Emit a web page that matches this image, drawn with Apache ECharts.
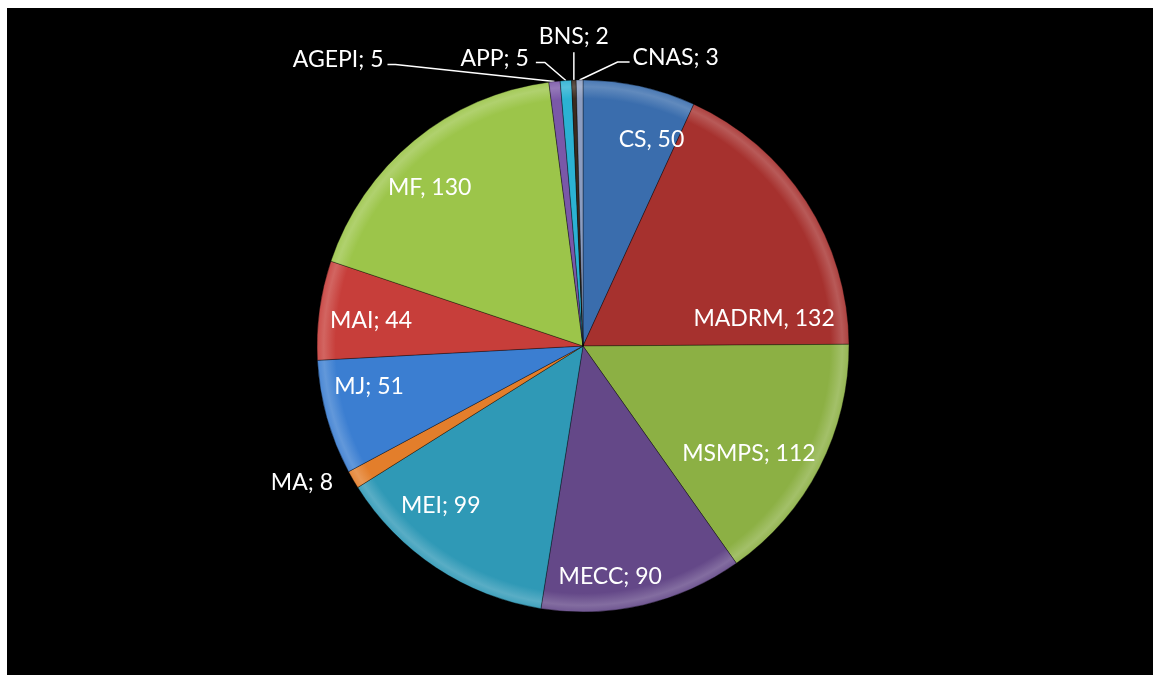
<!DOCTYPE html>
<html>
<head>
<meta charset="utf-8">
<script src="https://cdn.jsdelivr.net/npm/echarts/dist/echarts.min.js"></script>
<style>
  html, body { margin: 0; padding: 0; background: #ffffff; overflow: hidden; }
  #chart { position: absolute; left: 7px; top: 8px; width: 1146px; height: 667px; }
</style>
</head>
<body>
<div id="chart"></div>
<script>
// ---- data ----
const categories = ['CS', 'MADRM', 'MSMPS', 'MECC', 'MEI', 'MA', 'MJ', 'MAI', 'MF', 'AGEPI', 'APP', 'BNS', 'CNAS'];
const values     = [50, 132, 112, 90, 99, 8, 51, 44, 130, 5, 5, 2, 3];
const separators = [',', ',', ';', ';', ';', ';', ';', ';', ',', ';', ';', ';', ';'];
const colors     = ['#3a6dad', '#a6312e', '#8cb044', '#644888', '#2f99b6', '#e37e2b',
                    '#3b7ed1', '#c73e3a', '#9cc54a', '#7a58a8', '#2bb2d3', '#3a2a1e', '#8c9dc1'];

// ---- layout constants ----
const CX = 576, CY = 338, R = 266;

function lighten(hex, amt) {
  const n = parseInt(hex.slice(1), 16);
  let r = (n >> 16) & 255, g = (n >> 8) & 255, b = n & 255;
  r = Math.round(r + (255 - r) * amt);
  g = Math.round(g + (255 - g) * amt);
  b = Math.round(b + (255 - b) * amt);
  return 'rgb(' + r + ',' + g + ',' + b + ')';
}
function fillFor(hex) {
  return {
    type: 'radial', x: CX, y: CY, r: R, global: true,
    colorStops: [
      { offset: 0, color: hex },
      { offset: 0.93, color: hex },
      { offset: 0.975, color: lighten(hex, 0.2) },
      { offset: 1, color: lighten(hex, 0.08) }
    ]
  };
}

const outsideSet = { 'MA': 1, 'AGEPI': 1, 'APP': 1, 'BNS': 1, 'CNAS': 1 };

const pieData = categories.map((c, i) => ({
  name: c, value: values[i],
  itemStyle: { color: fillFor(colors[i]) }
}));

const labelData = categories.map((c, i) => ({
  name: c, value: values[i],
  label: { position: outsideSet[c] ? 'outside' : 'inside' },
  labelLine: { show: !!outsideSet[c] && c !== 'MA' }
}));

// label placements for the small slices, relative to their anchor on the rim
const placement = {
  'MA':    { tx: -20, ty: 3,   align: 'right',  pts: null },
  'AGEPI': { tx: -171, ty: -22, align: 'right',  pts: [[-159, -17], [-167, -17]] },
  'APP':   { tx: -37, ty: -22, align: 'right',  pts: [[-21, -18], [-30, -18]] },
  'BNS':   { tx: 0,   ty: -44, align: 'center', pts: [[0, -14], [0, -28]] },
  'CNAS':  { tx: 53,  ty: -22, align: 'left',   pts: [[38, -18], [50, -18]] }
};
// small nudges of the inside labels within their slices (best-fit style)
const nudge = {
  'CS': [22, 7], 'MADRM': [-2, 91], 'MSMPS': [-28, 8], 'MECC': [-22, 18],
  'MEI': [-22, -22], 'MJ': [-4, -18], 'MAI': [4, 4], 'MF': [-15, 10]
};

const chart = echarts.init(document.getElementById('chart'), null, { renderer: 'canvas' });
chart.setOption({
  backgroundColor: '#000000',
  animation: false,
  series: [
    {
      type: 'pie',
      center: [CX, CY],
      radius: [0, R],
      startAngle: 90,
      clockwise: true,
      silent: true,
      label: { show: false },
      labelLine: { show: false },
      itemStyle: { borderColor: 'rgba(0,0,0,0.35)', borderWidth: 1 },
      data: pieData
    },
    {
      type: 'pie',
      center: [CX, CY],
      radius: [164, R],
      startAngle: 90,
      clockwise: true,
      silent: true,
      avoidLabelOverlap: false,
      itemStyle: { color: 'rgba(0,0,0,0)', borderWidth: 0 },
      label: {
        show: true,
        color: '#ffffff',
        fontFamily: 'Lato, "Noto Sans", sans-serif',
        fontSize: 23,
        formatter: p => p.name + separators[p.dataIndex] + ' ' + p.value
      },
      labelLine: { show: true, length: 10, length2: 10, lineStyle: { color: '#ffffff', width: 1.5 } },
      labelLayout: function (params) {
        const name = categories[params.dataIndex];
        const pl = placement[name];
        if (!pl) {
          const n = nudge[name];
          return n ? { dx: n[0], dy: n[1] } : {};
        }
        if (!params.labelLinePoints) return {};
        const a = params.labelLinePoints[0];
        const out = {
          x: a[0] + pl.tx,
          y: a[1] + pl.ty,
          align: pl.align,
          verticalAlign: 'middle'
        };
        if (pl.pts) {
          out.labelLinePoints = [[a[0], a[1]],
            [a[0] + pl.pts[0][0], a[1] + pl.pts[0][1]],
            [a[0] + pl.pts[1][0], a[1] + pl.pts[1][1]]];
        }
        return out;
      },
      data: labelData
    }
  ]
});
</script>
</body>
</html>
